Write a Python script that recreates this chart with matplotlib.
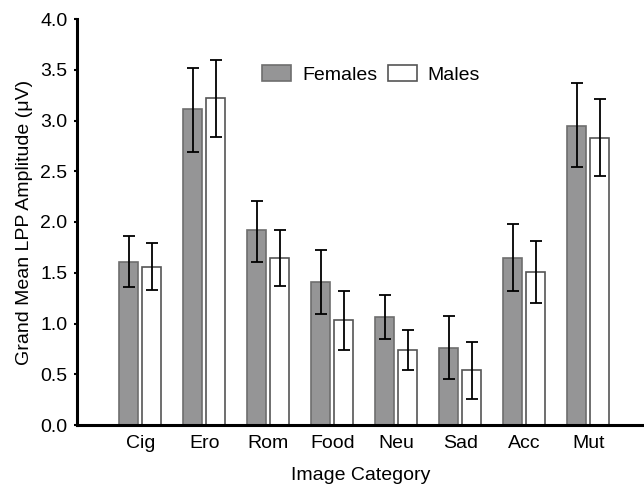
import matplotlib
matplotlib.use("Agg")
import matplotlib.pyplot as plt
import numpy as np

plt.rcParams['font.family'] = ['Liberation Sans', 'DejaVu Sans']

categories = ["Cig", "Ero", "Rom", "Food", "Neu", "Sad", "Acc", "Mut"]
females = [1.61, 3.11, 1.92, 1.41, 1.06, 0.76, 1.65, 2.95]
females_hi = [1.86, 3.52, 2.21, 1.725, 1.28, 1.07, 1.98, 3.37]
females_lo = [1.36, 2.69, 1.61, 1.095, 0.846, 0.456, 1.316, 2.54]
males = [1.56, 3.22, 1.65, 1.03, 0.74, 0.54, 1.51, 2.83]
males_hi = [1.79, 3.60, 1.92, 1.32, 0.94, 0.82, 1.81, 3.21]
males_lo = [1.33, 2.84, 1.37, 0.74, 0.545, 0.26, 1.20, 2.45]

fig = plt.figure(figsize=(6.44, 4.87), dpi=100)
ax = fig.add_axes([77/644, 1-425/487, 1-77/644, (425-19)/487])

x = np.arange(len(categories))
w = 0.30
off = 0.18
f = np.array(females); m = np.array(males)
ferr = [f - np.array(females_lo), np.array(females_hi) - f]
merr = [m - np.array(males_lo), np.array(males_hi) - m]

ax.bar(x - off, f, w, color='#959596', edgecolor='#6e6e6e', linewidth=1.2,
       label='Females', zorder=2)
ax.bar(x + off, m, w, color='white', edgecolor='#555555', linewidth=1.2,
       label='Males', zorder=2)
ax.errorbar(x - off, f, yerr=ferr, fmt='none', ecolor='black', elinewidth=1.3,
            capsize=4.3, capthick=1.3, zorder=3)
ax.errorbar(x + off, m, yerr=merr, fmt='none', ecolor='black', elinewidth=1.3,
            capsize=4.3, capthick=1.3, zorder=3)

fs = 14
ax.set_xlim(-0.99, 7.87)
ax.set_ylim(0, 4.0)
ax.set_yticks(np.arange(0, 4.01, 0.5))
ax.set_yticklabels([f"{v:.1f}" for v in np.arange(0, 4.01, 0.5)], fontsize=fs)
ax.set_xticks(x)
ax.set_xticklabels(categories, fontsize=fs)
ax.tick_params(axis='x', length=0, pad=7)
ax.tick_params(axis='y', length=2, width=1.5, pad=5)

for s in ['top', 'right']:
    ax.spines[s].set_visible(False)
for s in ['left', 'bottom']:
    ax.spines[s].set_linewidth(2.2)
ax.spines['bottom'].set_zorder(4)

ax.set_ylabel("Grand Mean LPP Amplitude (μV)", fontsize=fs, labelpad=5)
ax.set_xlabel("Image Category", fontsize=fs, labelpad=11)

ax.legend(loc='center', bbox_to_anchor=(0.519, 0.863), ncol=2, frameon=False,
          fontsize=fs, handlelength=1.5, handleheight=0.9, handletextpad=0.55,
          columnspacing=0.55)

fig.savefig("out.png", dpi=100)
